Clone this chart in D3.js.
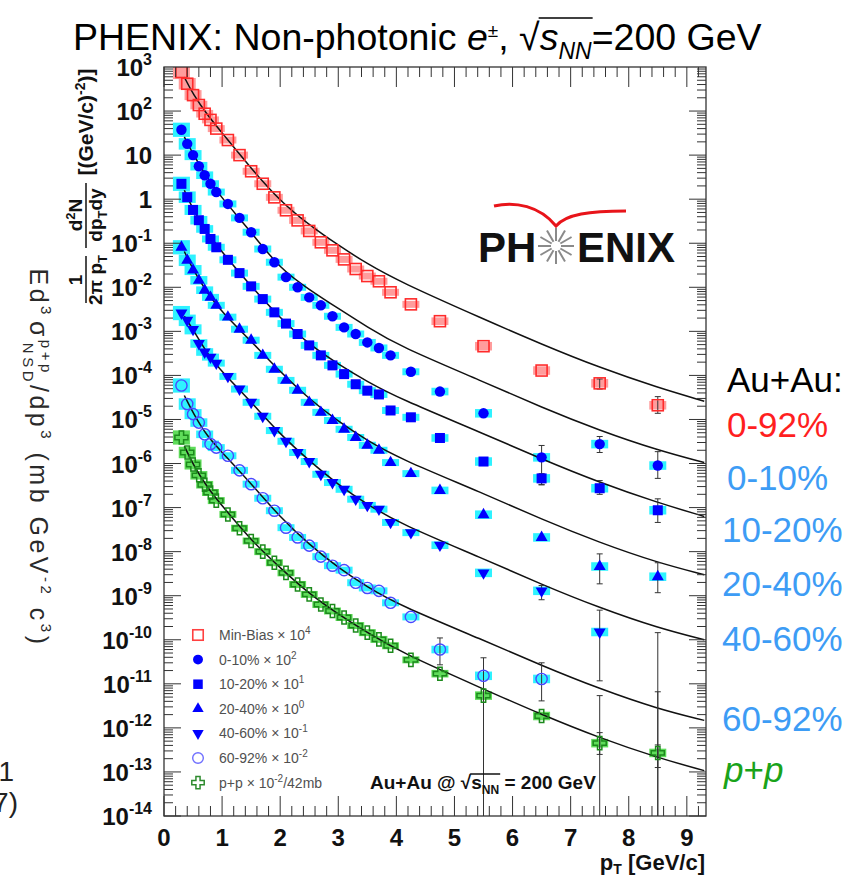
<!DOCTYPE html>
<html lang="en">
<head>
<meta charset="UTF-8">
<title>PHENIX non-photonic electrons</title>
<script src="https://cdn.jsdelivr.net/npm/d3@7"></script>
<style>
    body { margin: 0; background: #fff; }
    svg text { font-family: "Liberation Sans", Arial, sans-serif; }
</style>
</head>
<body>
<script>
// pT bin centres (GeV/c), shared by all spectra
var pT = [0.3, 0.4, 0.5, 0.6, 0.7, 0.8, 0.9, 1.1, 1.3, 1.5, 1.7, 1.9, 2.1, 2.3, 2.5, 2.7, 2.9, 3.1, 3.3, 3.5, 3.7, 3.9, 4.25, 4.75, 5.5, 6.5, 7.5, 8.5];

var minBias  = [770, 417, 230, 137, 87, 63, 40, 22, 10, 4.3, 2.24, 1.1, 0.56, 0.33, 0.19, 0.105, 0.069, 0.043, 0.026, 0.018, 0.0137, 0.0077, 0.0041, 0.0017, 4.6e-4, 1.29e-4, 6.6e-5, 2.1e-5];
var cent0010 = [37.6, 18, 10, 5.6, 3.5, 2.24, 1.45, 0.78, 0.376, 0.178, 0.074, 0.037, 0.017, 0.01, 0.0059, 0.0039, 0.0022, 0.00123, 8.7e-4, 5.6e-4, 4.2e-4, 2.85e-4, 1.21e-4, 4.3e-5, 1.38e-5, 1.38e-6, 2.76e-6, 9e-7];
var cent1020 = [2.23, 1.11, 0.57, 0.333, 0.211, 0.125, 0.081, 0.042, 0.021, 0.0105, 0.0054, 0.0027, 0.0015, 8.7e-4, 4.8e-4, 2.85e-4, 1.69e-4, 1.07e-4, 6.3e-5, 4.5e-5, 3.7e-5, 1.6e-5, 1.12e-5, 3.8e-6, 1.11e-6, 4.6e-7, 2.75e-7, 8.7e-8];
var cent2040 = [0.081, 0.041, 0.0246, 0.0144, 0.0086, 0.0059, 0.0039, 0.0021, 0.00112, 6.3e-4, 2.85e-4, 1.38e-4, 7.7e-5, 4.6e-5, 2.45e-5, 1.45e-5, 9.5e-6, 6.0e-6, 3.9e-6, 2.6e-6, 2.0e-6, 1.05e-6, 5.9e-7, 2.45e-7, 6.9e-8, 2.1e-8, 4.6e-9, 2.7e-9];
var cent4060 = [0.0026, 0.00178, 0.00111, 5.3e-4, 3.4e-4, 2.6e-4, 1.9e-4, 9.5e-5, 4.9e-5, 2.45e-5, 1.18e-5, 5.6e-6, 3.2e-6, 1.78e-6, 1.11e-6, 5.7e-7, 3.7e-7, 2.6e-7, 1.55e-7, 1.12e-7, 9.2e-8, 4.6e-8, 2.7e-8, 1.4e-8, 3.3e-9, 1.29e-9, 1.5e-10, null];
var cent6092 = [5.9e-5, 2.24e-5, 1.32e-5, 8.5e-6, 4.6e-6, 2.77e-6, 2.3e-6, 1.5e-6, 7.0e-7, 3.4e-7, 1.63e-7, 8.5e-8, 3.5e-8, 2.1e-8, 1.37e-8, 7.7e-9, 4.8e-9, 3.8e-9, 1.97e-9, 1.5e-9, 1.29e-9, 6.9e-10, 3.3e-10, 6.0e-11, 1.52e-11, 1.29e-11, null, null];
var ppRef    = [3.9e-6, 1.78e-6, 9.5e-7, 5.4e-7, 3.3e-7, 2.2e-7, 1.44e-7, 7e-8, 3.4e-8, 1.75e-8, 1.0e-8, 5.6e-9, 3.3e-9, 1.8e-9, 1.07e-9, 6.3e-10, 4.5e-10, 3.2e-10, 2.1e-10, 1.45e-10, 1.02e-10, 7.3e-11, 3.5e-11, 1.7e-11, 5.4e-12, 1.86e-12, 4.5e-13, 2.7e-13];

// relative systematic uncertainty per bin (boxes)
var sysRel = [0.45, 0.35, 0.3, 0.25, 0.22, 0.2, 0.2, 0.2, 0.2, 0.2, 0.2, 0.2, 0.2, 0.2, 0.2, 0.2, 0.2, 0.2, 0.2, 0.2, 0.2, 0.2, 0.2, 0.22, 0.25, 0.25, 0.25, 0.25];

// statistical error bars that are visible: [pT, low, high]
var errMinBias = [[7.5, 4.9e-5, 8.3e-5], [8.5, 1.38e-5, 3.3e-5]];
var err0010 = [[6.5, 3.3e-7, 2.57e-6], [7.5, 1.78e-6, 4.1e-6], [8.5, 4.6e-7, 1.86e-6]];
var err1020 = [[6.5, 3.3e-7, 5.9e-7], [7.5, 2e-7, 4.1e-7], [8.5, 4.6e-8, 1.58e-7]];
var err2040 = [[7.5, 1.86e-9, 8.9e-9], [8.5, 1.17e-9, 5.6e-9]];
var err4060 = [[6.5, 8.1e-10, 1.7e-9], [7.5, 1.17e-11, 4.7e-10], [8.5, 1e-16, 1.45e-10]];
var err6092 = [[4.75, 2.7e-11, 1.1e-10], [5.5, 1e-16, 3.9e-11], [6.5, 4.1e-12, 3e-11], [7.5, 1e-16, 5.4e-12], [8.5, 1e-16, 6.6e-12]];
var errPP = [[7.5, 2.5e-13, 7.8e-13], [8.5, 1.26e-13, 4.1e-13]];

// fit curves
var fitPt = [0.35, 0.5, 0.75, 1, 1.5, 2, 2.5, 3, 3.5, 4.05, 5.5, 6.5, 7.5, 8.5, 9.3];
var fitMinBias = [590, 240, 80, 32, 5.0, 0.9, 0.26, 0.09, 0.034, 0.0135, 1.9e-3, 5.1e-4, 1.5e-4, 5.3e-5, 2.6e-5];
var fit0010 = [26, 10.5, 2.9, 1.05, 0.18, 0.026, 8.9e-3, 3.3e-3, 1.26e-3, 4.6e-4, 7.2e-5, 1.87e-5, 5.6e-6, 2e-6, 1.05e-6];
var fit1020 = [1.6, 0.57, 0.17, 0.062, 0.0105, 2.0e-3, 5.0e-4, 1.8e-4, 7.2e-5, 3.0e-5, 4.8e-6, 1.26e-6, 3.7e-7, 1.29e-7, 6.3e-8];
var fit2040 = [0.065, 0.025, 0.0072, 0.0027, 6e-4, 1.2e-4, 2.9e-5, 9e-6, 3.3e-6, 1.3e-6, 2.1e-7, 5.4e-8, 1.6e-8, 5.6e-9, 3e-9];
var fit4060 = [0.0022, 0.0011, 3e-4, 1.2e-4, 2.5e-5, 4.6e-6, 1.15e-6, 3.3e-7, 1.17e-7, 4.4e-8, 6.9e-9, 1.8e-9, 5.3e-10, 1.86e-10, 1.0e-10];
var fit6092 = [3.5e-5, 1.4e-5, 4e-6, 1.8e-6, 3.5e-7, 6e-8, 1.45e-8, 4.3e-9, 1.58e-9, 6.1e-10, 9.8e-11, 2.6e-11, 7.7e-12, 2.7e-12, 1.48e-12];
var fitPP = [2.5e-6, 9.5e-7, 2.8e-7, 1.1e-7, 1.8e-8, 4.3e-9, 1.1e-9, 3.8e-10, 1.45e-10, 5.4e-11, 7.6e-12, 2e-12, 5.9e-13, 2.1e-13, 1.07e-13];

var legendLabels = ["Min-Bias", "0-10%", "10-20%", "20-40%", "40-60%", "60-92%", "p+p"];
var legendPowers = ["4", "2", "1", "0", "-1", "-2", "-2"];
var sideLabels = ["0-92%", "0-10%", "10-20%", "20-40%", "40-60%", "60-92%"];
var xTickLabels = [0, 1, 2, 3, 4, 5, 6, 7, 8, 9];

var w = 850, h = 879;
var padL = 164, padR = 706, padT = 67, padB = 816;

var svg = d3.select("body").append("svg")
    .attr("width", w)
    .attr("height", h);

var x = d3.scaleLinear().domain([0, 9.33]).range([padL, padR]);
var y = d3.scaleLog().domain([1e-14, 1e3]).range([padB, padT]);

var cyan = "#2ef2ff";
var series = [
    {v: minBias, fit: fitMinBias, err: errMinBias, shape: "openSquare", color: "#ff2a2a", box: "#ff9c9c"},
    {v: cent0010, fit: fit0010, err: err0010, shape: "circle", color: "#0000ff", box: cyan},
    {v: cent1020, fit: fit1020, err: err1020, shape: "square", color: "#0000ff", box: cyan},
    {v: cent2040, fit: fit2040, err: err2040, shape: "triUp", color: "#0000ff", box: cyan},
    {v: cent4060, fit: fit4060, err: err4060, shape: "triDown", color: "#0000ff", box: cyan},
    {v: cent6092, fit: fit6092, err: err6092, shape: "openCircle", color: "#4848ff", box: cyan},
    {v: ppRef, fit: fitPP, err: errPP, shape: "openCross", color: "#1c8a1c", box: "#5fdc5a"}
];

svg.append("defs").append("clipPath").attr("id", "plotclip")
    .append("rect")
    .attr("x", padL).attr("y", padT)
    .attr("width", padR - padL).attr("height", padB - padT);

var plot = svg.append("g").attr("clip-path", "url(#plotclip)");

function marker(g, shape, cx, cy, color, scale) {
    var s = scale || 1;
    if (shape === "openSquare") {
        g.append("rect").attr("x", cx - 5.5 * s).attr("y", cy - 5.5 * s)
            .attr("width", 11 * s).attr("height", 11 * s)
            .attr("fill", "none").attr("stroke", color).attr("stroke-width", 1.6);
    } else if (shape === "circle") {
        g.append("circle").attr("cx", cx).attr("cy", cy).attr("r", 5.2 * s).attr("fill", color);
    } else if (shape === "square") {
        g.append("rect").attr("x", cx - 5 * s).attr("y", cy - 5 * s)
            .attr("width", 10 * s).attr("height", 10 * s).attr("fill", color);
    } else if (shape === "triUp" || shape === "triDown") {
        g.append("path")
            .attr("d", d3.symbol(d3.symbolTriangle, 62 * s * s)())
            .attr("transform", "translate(" + cx + "," + cy + ")" + (shape === "triDown" ? " rotate(180)" : ""))
            .attr("fill", color);
    } else if (shape === "openCircle") {
        g.append("circle").attr("cx", cx).attr("cy", cy).attr("r", 5.6 * s)
            .attr("fill", "none").attr("stroke", color).attr("stroke-width", 1.4);
    } else if (shape === "openCross") {
        g.append("path")
            .attr("d", d3.symbol(d3.symbolCross, 95 * s * s)())
            .attr("transform", "translate(" + cx + "," + cy + ")")
            .attr("fill", "none").attr("stroke", color).attr("stroke-width", 1.5);
    }
}

// systematic boxes
series.forEach(function(s) {
    s.v.forEach(function(d, i) {
        if (d === null) return;
        var y0 = y(d * (1 + sysRel[i])), y1 = y(d / (1 + sysRel[i]));
        plot.append("rect")
            .attr("x", x(pT[i]) - 8.5)
            .attr("y", y0)
            .attr("width", 17)
            .attr("height", y1 - y0)
            .attr("fill", s.box);
    });
});

// fit curves
var line = d3.line()
    .x(function(d) { return x(d[0]); })
    .y(function(d) { return y(d[1]); })
    .curve(d3.curveBasis);

series.forEach(function(s) {
    plot.append("path")
        .datum(fitPt.map(function(p, i) { return [p, s.fit[i]]; }))
        .attr("d", line)
        .attr("fill", "none")
        .attr("stroke", "#111")
        .attr("stroke-width", 1.5);
});

// statistical error bars
series.forEach(function(s) {
    s.err.forEach(function(e) {
        var ex = x(e[0]), yl = y(Math.max(e[1], 1e-15)), yh = y(e[2]);
        plot.append("line").attr("x1", ex).attr("x2", ex).attr("y1", yh).attr("y2", yl)
            .attr("stroke", "#333").attr("stroke-width", 1);
        [yh, yl].forEach(function(yy) {
            plot.append("line").attr("x1", ex - 3).attr("x2", ex + 3).attr("y1", yy).attr("y2", yy)
                .attr("stroke", "#333").attr("stroke-width", 1);
        });
    });
});

// data markers
series.forEach(function(s) {
    s.v.forEach(function(d, i) {
        if (d === null) return;
        marker(plot, s.shape, x(pT[i]), y(d), s.color);
    });
});

// frame and ticks
var axisG = svg.append("g").attr("stroke", "#333").attr("stroke-width", 1);
axisG.append("rect")
    .attr("x", padL).attr("y", padT)
    .attr("width", padR - padL).attr("height", padB - padT)
    .attr("fill", "none").attr("stroke-width", 1.3);

d3.range(0, 47).forEach(function(k) {
    var v = k * 0.2;
    if (v > 9.33) return;
    var len = (k % 5 === 0) ? 20 : 10;
    var xx = x(v);
    axisG.append("line").attr("x1", xx).attr("x2", xx).attr("y1", padB).attr("y2", padB - len);
    axisG.append("line").attr("x1", xx).attr("x2", xx).attr("y1", padT).attr("y2", padT + len);
});

d3.range(-14, 3).forEach(function(k) {
    d3.range(1, 10).forEach(function(m) {
        var yy = y(m * Math.pow(10, k));
        var len = (m === 1) ? 17 : 9;
        axisG.append("line").attr("x1", padL).attr("x2", padL + len).attr("y1", yy).attr("y2", yy);
        axisG.append("line").attr("x1", padR).attr("x2", padR - len).attr("y1", yy).attr("y2", yy);
    });
});

// y tick labels
d3.range(-14, 4).forEach(function(k) {
    var t = svg.append("text")
        .attr("x", 152)
        .attr("y", y(Math.pow(10, k)) + 9)
        .attr("text-anchor", "end")
        .attr("font-weight", "bold")
        .attr("font-size", "24px")
        .attr("fill", "#111");
    if (k === 0) {
        t.text("1");
    } else if (k === 1) {
        t.text("10");
    } else {
        t.append("tspan").text("10");
        t.append("tspan").attr("dy", -11).attr("font-size", "16px").text(k);
    }
});

// x tick labels
svg.selectAll(".xlab")
    .data(xTickLabels)
    .enter()
    .append("text")
    .attr("x", function(d) { return x(d); })
    .attr("y", 846)
    .attr("text-anchor", "middle")
    .attr("font-weight", "bold")
    .attr("font-size", "24px")
    .attr("fill", "#111")
    .text(function(d) { return d; });

// x axis title
var xt = svg.append("text")
    .attr("x", 705).attr("y", 870)
    .attr("text-anchor", "end")
    .attr("font-weight", "bold")
    .attr("font-size", "22px")
    .attr("fill", "#111");
xt.append("tspan").text("p");
xt.append("tspan").attr("dy", 4).attr("font-size", "14px").text("T");
xt.append("tspan").attr("dy", -4).text(" [GeV/c]");

// inner y title: 1/(2pi pT) d2N/(dpT dy) [(GeV/c)^-2]
var yt = svg.append("g")
    .attr("transform", "translate(86,305) rotate(-90)")
    .attr("font-weight", "bold")
    .attr("font-size", "19px")
    .attr("fill", "#111");
yt.append("line").attr("x1", 2).attr("x2", 49).attr("y1", 0).attr("y2", 0)
    .attr("stroke", "#111").attr("stroke-width", 1.5);
yt.append("text").attr("x", 25).attr("y", -4).attr("text-anchor", "middle").text("1");
var den1 = yt.append("text").attr("x", 25).attr("y", 16).attr("text-anchor", "middle");
den1.append("tspan").text("2\u03c0 p");
den1.append("tspan").attr("dy", 5).attr("font-size", "13px").text("T");
yt.append("line").attr("x1", 57).attr("x2", 122).attr("y1", 0).attr("y2", 0)
    .attr("stroke", "#111").attr("stroke-width", 1.5);
var num2 = yt.append("text").attr("x", 90).attr("y", -4).attr("text-anchor", "middle");
num2.append("tspan").text("d");
num2.append("tspan").attr("dy", -7).attr("font-size", "13px").text("2");
num2.append("tspan").attr("dy", 7).text("N");
var den2 = yt.append("text").attr("x", 90).attr("y", 16).attr("text-anchor", "middle");
den2.append("tspan").text("dp");
den2.append("tspan").attr("dy", 5).attr("font-size", "13px").text("T");
den2.append("tspan").attr("dy", -5).text("dy");
var br = yt.append("text").attr("x", 183).attr("y", 7).attr("text-anchor", "middle").attr("font-size", "21px");
br.append("tspan").text("[(GeV/c)");
br.append("tspan").attr("dy", -8).attr("font-size", "14px").text("-2");
br.append("tspan").attr("dy", 8).text(")]");

// outer y title (p+p cross section), reads top to bottom
var ot = svg.append("text")
    .attr("transform", "translate(30,458) rotate(90)")
    .attr("text-anchor", "middle")
    .attr("font-size", "25px")
    .attr("letter-spacing", "3.5px")
    .attr("fill", "#2a2a2a");
ot.append("tspan").text("Ed");
ot.append("tspan").attr("dy", -11).attr("font-size", "15px").text("3");
ot.append("tspan").attr("dy", 11).attr("dx", 3).text("\u03c3");
ot.append("tspan").attr("dy", -11).attr("font-size", "15px").text("p+p");
ot.append("tspan").attr("dy", 18).attr("dx", -33).attr("font-size", "15px").text("NSD");
ot.append("tspan").attr("dy", -7).text("/dp");
ot.append("tspan").attr("dy", -11).attr("font-size", "15px").text("3");
ot.append("tspan").attr("dy", 11).text("  (mb GeV");
ot.append("tspan").attr("dy", -11).attr("font-size", "15px").text("-2");
ot.append("tspan").attr("dy", 11).text(" c");
ot.append("tspan").attr("dy", -11).attr("font-size", "15px").text("3");
ot.append("tspan").attr("dy", 11).text(")");

// draws an overline for a square root over characters i0..i1 of a text
function rootBar(t, i0, i1, dy) {
    var node = t.node();
    var b = node.getEndPositionOfChar(i1);
    var ext = node.getExtentOfChar(i0 - 1);
    svg.append("line")
        .attr("x1", ext.x + ext.width - 1).attr("x2", b.x + 1)
        .attr("y1", ext.y + dy).attr("y2", ext.y + dy)
        .attr("stroke", t.attr("fill") || "#000").attr("stroke-width", 1.5);
}

// title
var title = svg.append("text")
    .attr("x", 73).attr("y", 50)
    .attr("font-size", "37.5px")
    .attr("fill", "#000");
title.append("tspan").text("PHENIX: Non-photonic ");
title.append("tspan").attr("font-style", "italic").text("e");
title.append("tspan").attr("dy", -13).attr("font-size", "19px").text("\u00b1");
title.append("tspan").attr("dy", 13).text(", \u221a");
title.append("tspan").attr("font-style", "italic").text("s");
title.append("tspan").attr("dy", 9).attr("font-size", "23px").attr("font-style", "italic").text("NN");
title.append("tspan").attr("dy", -9).text("=200 GeV");
rootBar(title, 26, 28, 2);

// annotation inside the plot
var ann = svg.append("text")
    .attr("x", 370).attr("y", 789)
    .attr("font-weight", "bold")
    .attr("font-size", "19px")
    .attr("fill", "#111");
ann.append("tspan").text("Au+Au @ \u221a");
ann.append("tspan").text("s");
ann.append("tspan").attr("dy", 5).attr("font-size", "12px").text("NN");
ann.append("tspan").attr("dy", -5).text(" = 200 GeV");
rootBar(ann, 9, 11, 2);

// legend
var leg = svg.append("g");
legendLabels.forEach(function(lab, i) {
    var cy = 635 + i * 24.6;
    var s = series[i];
    var col = s.color;
    if (i === 0) col = "#ff4040";
    if (i === 5) col = "#7070ff";
    if (i === 6) col = "#2e8b2e";
    marker(leg, s.shape, 198, cy, col, 0.95);
    var t = leg.append("text")
        .attr("x", 219).attr("y", cy + 5)
        .attr("font-size", "14px")
        .attr("fill", "#505050");
    t.append("tspan").text(lab + " \u00d7 10");
    t.append("tspan").attr("dy", -6).attr("font-size", "10px").text(legendPowers[i]);
    if (i === 6) t.append("tspan").attr("dy", 6).text("/42mb");
});

// PHENIX logo
var logo = svg.append("g");
logo.append("path")
    .attr("d", "M494,206 C515,201 540,206 556,226 C566,214 590,211 626,211")
    .attr("fill", "none").attr("stroke", "#e8141a").attr("stroke-width", 3);
d3.range(0, 12).forEach(function(k) {
    var a = k * Math.PI / 6;
    logo.append("line")
        .attr("x1", 556 + 5 * Math.cos(a)).attr("y1", 246 + 5 * Math.sin(a))
        .attr("x2", 556 + 18 * Math.cos(a)).attr("y2", 246 + 18 * Math.sin(a))
        .attr("stroke", "#8a8a8a").attr("stroke-width", 2);
});
logo.append("text").attr("x", 478).attr("y", 262)
    .attr("font-weight", "bold").attr("font-size", "42px").attr("fill", "#111").text("PH");
logo.append("text").attr("x", 577).attr("y", 262)
    .attr("font-weight", "bold").attr("font-size", "42px").attr("fill", "#111").text("ENIX");

// labels on the right side
var side = svg.append("g").attr("font-size", "35px");
side.append("text").attr("x", 727).attr("y", 392).attr("fill", "#000").text("Au+Au:");
var sideY = [437, 490, 542, 596, 651, 731];
var sideX = [727, 727, 722, 722, 722, 722];
sideLabels.forEach(function(lab, i) {
    side.append("text")
        .attr("x", sideX[i]).attr("y", sideY[i])
        .attr("fill", i === 0 ? "#ff1f1f" : "#3d9cf5")
        .text(lab);
});
var ppl = side.append("text").attr("x", 724).attr("y", 782).attr("fill", "#1aa31a").attr("font-style", "italic");
ppl.append("tspan").text("p");
ppl.append("tspan").attr("font-style", "normal").text("+");
ppl.append("tspan").text("p");

// fragments of a reference cut at the left edge
svg.append("text").attr("x", 14).attr("y", 781).attr("text-anchor", "end")
    .attr("font-size", "28px").attr("fill", "#222").text("1");
svg.append("text").attr("x", 18).attr("y", 812).attr("text-anchor", "end")
    .attr("font-size", "28px").attr("fill", "#222").text("7)");
</script>
</body>
</html>
